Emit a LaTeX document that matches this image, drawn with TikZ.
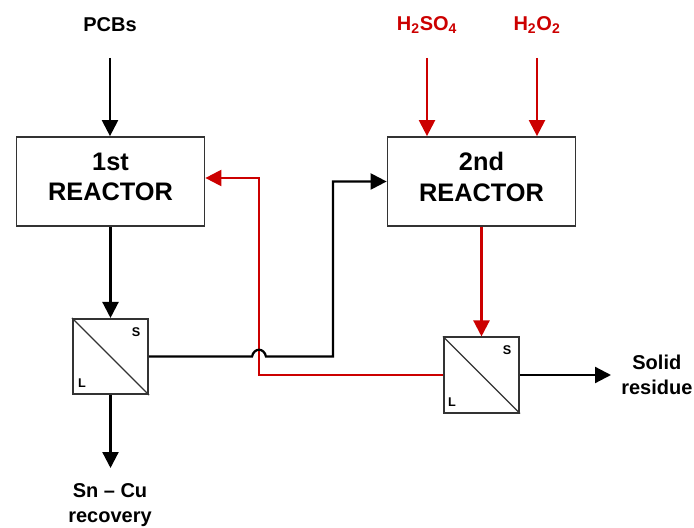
\documentclass[tikz,border=0pt]{standalone}
\usepackage{fontspec}
\setmainfont{Liberation Sans}
\usetikzlibrary{arrows.meta, positioning, calc}
\definecolor{acidred}{RGB}{204,0,0}

\begin{document}
\begin{tikzpicture}[x=0.75pt, y=-0.75pt,
  reactor/.style={draw=black!80, line width=1.3pt, minimum width=141pt, minimum height=66.75pt,
    align=center, inner sep=0pt, text depth=7pt, font=\fontsize{19}{23}\selectfont\bfseries},
  filter/.style={draw=black!80, line width=1.3pt, minimum size=56.5pt, inner sep=0pt},
  tag/.style={inner sep=0pt, font=\fontsize{9.5}{11}\selectfont\bfseries},
  stream/.style={align=center, inner sep=0pt, font=\fontsize{15}{18.5}\selectfont\bfseries},
  flow/.style={line width=1.7pt, -{Triangle[width=12pt,length=12pt]}},
  acid/.style={flow, draw=acidred}]
  \useasboundingbox (0,0) rectangle (694,528);
  % Reactors and separators
  \node[reactor] (r1) at (110.5,181.5) {1st\\REACTOR};
  \node[reactor] (r2) at (481.5,181.5) {2nd\\REACTOR};
  \node[filter] (f1) at (110.5,356.5) {};
  \node[filter] (f2) at (481.5,375) {};
  \draw[line width=0.8pt, black!80] (f1.north west) -- (f1.south east);
  \draw[line width=0.8pt, black!80] (f2.north west) -- (f2.south east);
  \node[tag] (s1) at (136,332) {S};
  \node[tag] (l1) at (82,383) {L};
  \node[tag] (s2) at (507,350) {S};
  \node[tag] (l2) at (452,402) {L};
  % Streams
  \node[stream] (pcbs) at (110,25) {PCBs};
  \node[stream, text=acidred] (sulf) at (427,25) {H\textsubscript{2}SO\textsubscript{4}};
  \node[stream, text=acidred] (perox) at (537,25) {H\textsubscript{2}O\textsubscript{2}};
  \node[stream] (sncu) at (110,505) {Sn \textendash{} Cu\\recovery};
  \node[stream, anchor=west] (solid) at (621,375) {Solid\\residue};
  \coordinate (pcbin) at (110,58);
  \coordinate (sulfin) at (427,58);
  \coordinate (peroxin) at (537,58);
  \coordinate (sncuout) at (110.5,468);
  \coordinate (solidout) at (611,375);
  \coordinate (ret) at (259,178);
  \coordinate (bend) at (333,356.5);
  \coordinate (hop) at (ret |- f1.east);
  % Arrows
  \draw[flow] (pcbin) -- (pcbin |- r1.north);
  \draw[acid] (sulfin) -- (sulfin |- r2.north);
  \draw[acid] (peroxin) -- (peroxin |- r2.north);
  \draw[flow] (r1.south) -- (f1.north);
  \draw[flow] (f1.south) -- (sncuout);
  \draw[acid] (r2.south) -- (f2.north);
  \draw[flow] (f2.east) -- (solidout);
  \draw[acid] (f2.west) -| (ret) -- (r1.east |- ret);
  \draw[flow] (f1.east) -- ($(hop)+(-7,0)$) .. controls ($(hop)+(-5,-9)$) and ($(hop)+(5,-9)$) .. ($(hop)+(7,0)$)
    -- (bend) |- (r2.west);
\end{tikzpicture}
\end{document}
